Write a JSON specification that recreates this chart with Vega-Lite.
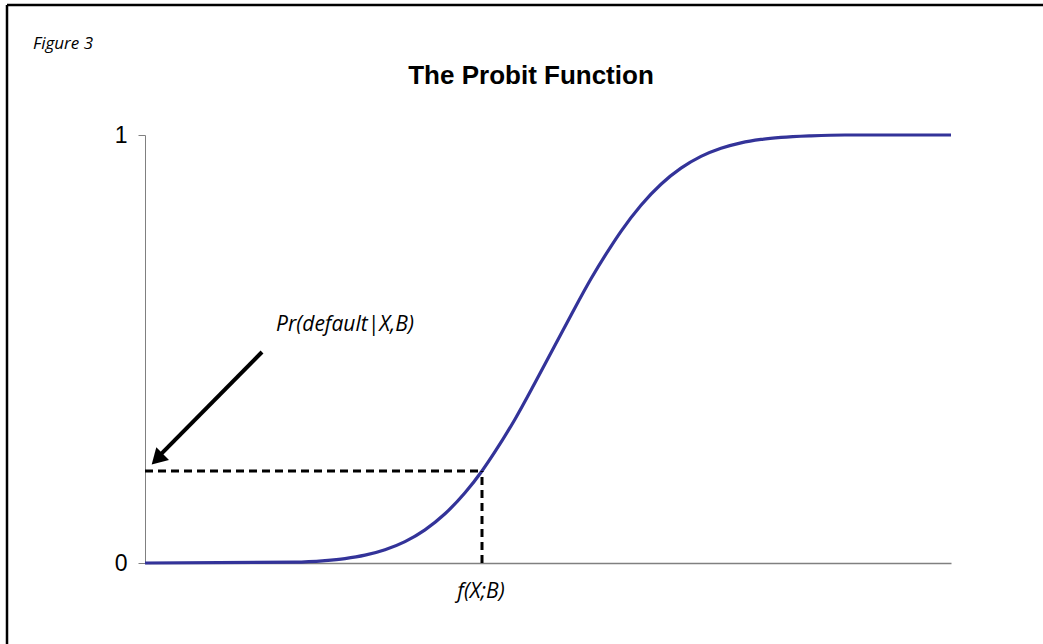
{
  "$schema": "https://vega.github.io/schema/vega-lite/v6.json",
  "width": 806,
  "height": 428,
  "autosize": "none",
  "padding": {"left": 145, "top": 135, "right": 92, "bottom": 81},
  "background": "white",
  "config": {"view": {"stroke": null}},
  "datasets": {
    "curve": [
      {"x": 0, "p": 0}, {"x": 150, "p": 0.002}, {"x": 180, "p": 0.0057}, {"x": 200, "p": 0.0104},
      {"x": 220, "p": 0.0183}, {"x": 240, "p": 0.031}, {"x": 260, "p": 0.05}, {"x": 280, "p": 0.0775},
      {"x": 300, "p": 0.115}, {"x": 320, "p": 0.164}, {"x": 337, "p": 0.215}, {"x": 350, "p": 0.26},
      {"x": 370, "p": 0.336}, {"x": 390, "p": 0.421}, {"x": 408, "p": 0.5}, {"x": 426, "p": 0.579},
      {"x": 446, "p": 0.664}, {"x": 466, "p": 0.74}, {"x": 476, "p": 0.775}, {"x": 496, "p": 0.836},
      {"x": 516, "p": 0.885}, {"x": 536, "p": 0.9225}, {"x": 556, "p": 0.95}, {"x": 576, "p": 0.969},
      {"x": 596, "p": 0.9817}, {"x": 616, "p": 0.9896}, {"x": 636, "p": 0.9943}, {"x": 666, "p": 0.998},
      {"x": 700, "p": 1}, {"x": 806, "p": 1}
    ],
    "dashed": [
      {"x": 0, "x2": 337, "p": 0.215, "p2": 0.215},
      {"x": 337, "x2": 337, "p": 0, "p2": 0.215}
    ],
    "arrow": [{"x": 117, "p": 0.493, "x2": 15, "p2": 0.252}],
    "arrowhead": [{"x": 14, "p": 0.247}],
    "labels": [
      {"x": 200, "p": 0.556, "label": "Pr(default|X,B)"},
      {"x": 336, "p": -0.068, "label": "f(X;B)"}
    ],
    "figure": [{"x": -112, "p": 1.213, "label": "Figure 3"}],
    "title": [{"x": 386, "p": 1.119, "label": "The Probit Function"}],
    "border": [
      {"x": -138, "x2": 1000, "p": 1.304, "p2": 1.304},
      {"x": -138, "x2": -138, "p": 1.304, "p2": -0.4}
    ]
  },
  "layer": [
    {
      "data": {"name": "curve"},
      "mark": {"type": "line", "color": "#333399", "strokeWidth": 3.2, "interpolate": "monotone"},
      "encoding": {
        "x": {"field": "x", "type": "quantitative", "scale": {"domain": [0, 806], "nice": false, "zero": false},
              "axis": {"labels": false, "ticks": false, "title": null, "grid": false, "domainColor": "#808080", "domainWidth": 1.5}},
        "y": {"field": "p", "type": "quantitative", "scale": {"domain": [0, 1], "nice": false},
              "axis": {"values": [0, 1], "format": "d", "title": null, "grid": false, "labelFont": "Liberation Sans",
                       "labelFontSize": 23, "labelColor": "black", "tickColor": "#808080", "domainColor": "#808080",
                       "tickSize": 7, "labelPadding": 11}}
      }
    },
    {
      "data": {"name": "dashed"},
      "mark": {"type": "rule", "color": "black", "strokeWidth": 3, "strokeDash": [8, 5]},
      "encoding": {
        "x": {"field": "x", "type": "quantitative"},
        "x2": {"field": "x2"},
        "y": {"field": "p", "type": "quantitative"},
        "y2": {"field": "p2"}
      }
    },
    {
      "data": {"name": "arrow"},
      "mark": {"type": "rule", "color": "black", "strokeWidth": 4},
      "encoding": {
        "x": {"field": "x", "type": "quantitative"},
        "x2": {"field": "x2"},
        "y": {"field": "p", "type": "quantitative"},
        "y2": {"field": "p2"}
      }
    },
    {
      "data": {"name": "arrowhead"},
      "mark": {"type": "point", "shape": "triangle", "filled": true, "color": "black", "opacity": 1, "size": 320, "angle": 225},
      "encoding": {
        "x": {"field": "x", "type": "quantitative"},
        "y": {"field": "p", "type": "quantitative"}
      }
    },
    {
      "data": {"name": "labels"},
      "mark": {"type": "text", "font": "Open Sans", "fontStyle": "italic", "fontSize": 21, "color": "black", "align": "center", "baseline": "middle"},
      "encoding": {
        "x": {"field": "x", "type": "quantitative"},
        "y": {"field": "p", "type": "quantitative"},
        "text": {"field": "label"}
      }
    },
    {
      "data": {"name": "figure"},
      "mark": {"type": "text", "font": "Open Sans", "fontStyle": "italic", "fontSize": 17, "color": "black", "align": "left", "baseline": "middle"},
      "encoding": {
        "x": {"field": "x", "type": "quantitative"},
        "y": {"field": "p", "type": "quantitative"},
        "text": {"field": "label"}
      }
    },
    {
      "data": {"name": "title"},
      "mark": {"type": "text", "font": "Liberation Sans", "fontWeight": "bold", "fontSize": 26, "color": "black", "align": "center", "baseline": "alphabetic"},
      "encoding": {
        "x": {"field": "x", "type": "quantitative"},
        "y": {"field": "p", "type": "quantitative"},
        "text": {"field": "label"}
      }
    },
    {
      "data": {"name": "border"},
      "mark": {"type": "rule", "color": "black", "strokeWidth": 2.5},
      "encoding": {
        "x": {"field": "x", "type": "quantitative"},
        "x2": {"field": "x2"},
        "y": {"field": "p", "type": "quantitative"},
        "y2": {"field": "p2"}
      }
    }
  ]
}
